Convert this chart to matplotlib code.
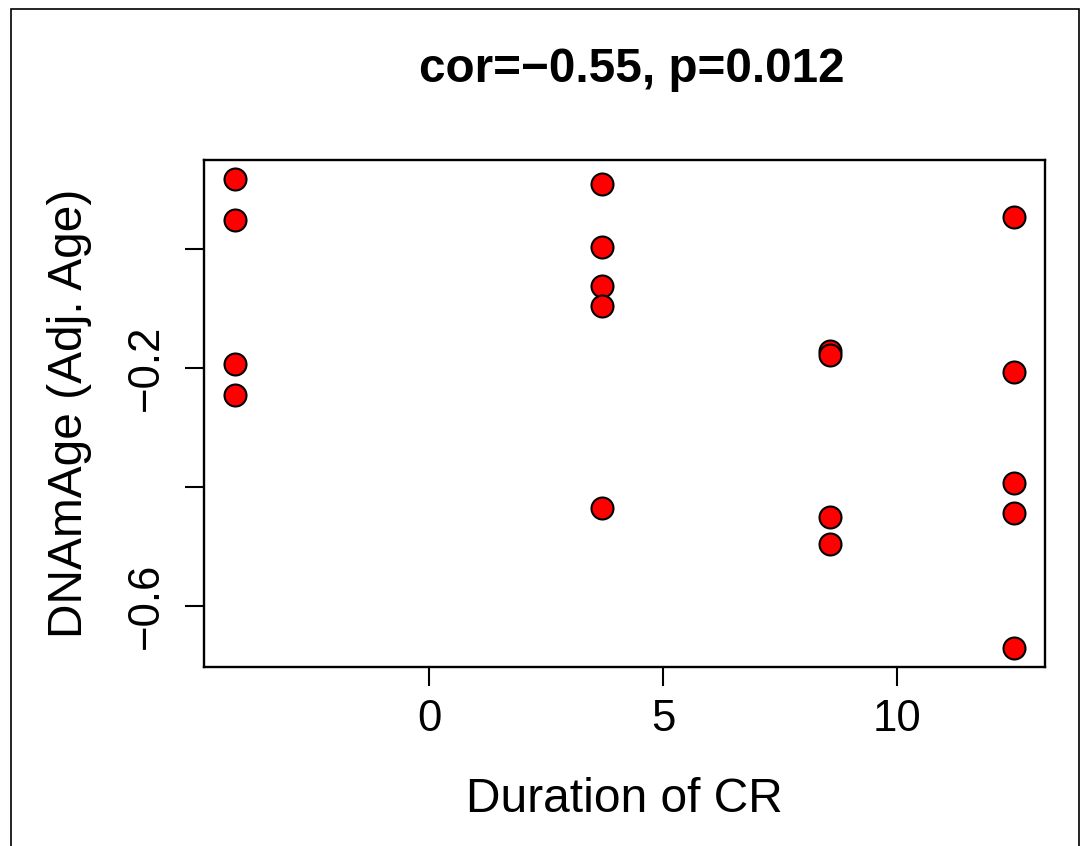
import matplotlib

matplotlib.use("Agg")
import matplotlib.pyplot as plt
from matplotlib.patches import Rectangle

# Duration of CR (x) and adjusted DNAm age (y), one entry per sample
duration = [
    -4.16, -4.16, -4.16, -4.16,
    3.69, 3.69, 3.69, 3.69, 3.69,
    8.58, 8.58, 8.58, 8.58,
    12.51, 12.51, 12.51, 12.51, 12.51,
]
dnam_age = [
    0.118, 0.049, -0.193, -0.245,
    0.110, 0.003, -0.063, -0.095, -0.436,
    -0.171, -0.178, -0.450, -0.496,
    0.054, -0.206, -0.394, -0.443, -0.671,
]
x_ticks = [0, 5, 10]
y_ticks = [0.0, -0.2, -0.4, -0.6]
y_tick_labels = ["", "\u22120.2", "", "\u22120.6"]
title = "cor=\u22120.55, p=0.012"

plt.rcParams["font.family"] = ["Liberation Sans", "DejaVu Sans"]

W, H = 1085, 846
fig = plt.figure(figsize=(W / 100, H / 100), dpi=100)
fig.patch.set_facecolor("#ffffff")

left, right, top, bottom = 204, 1045, 160, 667
ax = fig.add_axes([left / W, 1 - bottom / H, (right - left) / W, (bottom - top) / H])

ax.scatter(duration, dnam_age, s=250, c="#ff0000", edgecolors="#000000",
           linewidths=1.5, zorder=3, clip_on=False)

# R-style 4% padding around the data range
xmin, xmax = min(duration), max(duration)
ymin, ymax = min(dnam_age), max(dnam_age)
xpad, ypad = 0.04 * (xmax - xmin), 0.04 * (ymax - ymin)
ax.set_xlim(xmin - xpad, xmax + xpad)
ax.set_ylim(ymin - ypad, ymax + ypad)

ax.set_xticks(x_ticks, labels=[str(t) for t in x_ticks])
ax.set_yticks(y_ticks, labels=y_tick_labels)
ax.tick_params(axis="x", length=14, width=1.5, labelsize=31.5, pad=9)
ax.tick_params(axis="y", length=14, width=1.5, labelsize=31.5, pad=13)
for lab in ax.get_yticklabels():
    lab.set_rotation(90)
    lab.set_va("center")
for spine in ax.spines.values():
    spine.set_linewidth(1.7)

ax.set_xlabel("Duration of CR", fontsize=34.5)
ax.xaxis.set_label_coords(0.5, (bottom - 812) / (bottom - top))
ax.xaxis.label.set_va("baseline")
ax.set_ylabel("DNAmAge (Adj. Age)", fontsize=34.5)
ax.yaxis.set_label_coords((70 - left) / (right - left), 0.5)
ax.yaxis.label.set_va("center")

fig.text((418 + 845) / 2 / W, 1 - 82 / H, title, ha="center", va="baseline",
         fontsize=34.3, fontweight="bold")

# thin frame round the whole device region
fig.add_artist(Rectangle((11 / W, -0.01), (1079 - 11) / W, 1.01 - 9 / H,
                         transform=fig.transFigure, fill=False,
                         edgecolor="#000000", linewidth=1.2))

fig.savefig("out.png", dpi=100, facecolor=fig.get_facecolor())
